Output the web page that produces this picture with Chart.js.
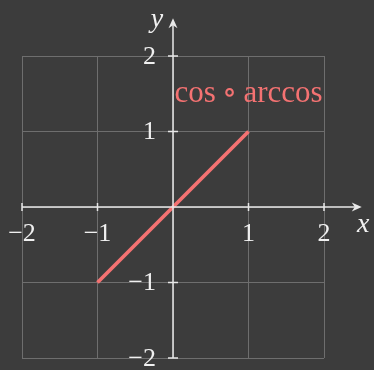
<!DOCTYPE html>
<html>
<head>
<meta charset="utf-8">
<script src="https://cdn.jsdelivr.net/npm/chart.js@4"></script>
<style>
  html, body { margin: 0; padding: 0; background: #3c3c3c; }
  canvas { display: block; }
</style>
</head>
<body>
<canvas id="c" width="374" height="370"></canvas>
<script>
// Data: cos(arccos(x)) = x on its domain [-1, 1]
const xs = [-1, 1];
const ys = [-1, 1];
const xTicks = [-2, -1, 1, 2];
const yTicks = [-2, -1, 1, 2];
const xTickLabels = ['\u22122', '\u22121', '1', '2'];
const yTickLabels = ['\u22122', '\u22121', '1', '2'];
const curveLabel = 'cos\u2009\u2218\u2009arccos';
const curveLabelAt = [0.02, 1.5];

const BG = '#3c3c3c';
const GRID = '#6e6e6e';
const AXIS = '#e8e8e8';
const RED = '#f47272';
const SERIF = '"Liberation Serif", "DejaVu Serif", serif';

// Axes through the origin, with arrowheads, crossing tick marks and labels
const originAxes = {
  id: 'originAxes',
  afterDatasetsDraw(chart) {
    const ctx = chart.ctx;
    const sx = chart.scales.x, sy = chart.scales.y;
    const x0 = sx.getPixelForValue(0), y0 = sy.getPixelForValue(0);
    const left = sx.getPixelForValue(-2), right = sx.getPixelForValue(2.5);
    const bottom = sy.getPixelForValue(-2), top = sy.getPixelForValue(2.5);
    ctx.save();
    ctx.strokeStyle = AXIS;
    ctx.fillStyle = AXIS;
    ctx.lineWidth = 1.5;
    // axis lines
    ctx.beginPath();
    ctx.moveTo(left, y0); ctx.lineTo(right - 3, y0);
    ctx.moveTo(x0, bottom); ctx.lineTo(x0, top + 3);
    ctx.stroke();
    // arrowheads
    ctx.beginPath();
    ctx.moveTo(right, y0);
    ctx.lineTo(right - 10, y0 - 4.5);
    ctx.lineTo(right - 7, y0);
    ctx.lineTo(right - 10, y0 + 4.5);
    ctx.closePath();
    ctx.fill();
    ctx.beginPath();
    ctx.moveTo(x0, top);
    ctx.lineTo(x0 - 4.5, top + 10);
    ctx.lineTo(x0, top + 7);
    ctx.lineTo(x0 + 4.5, top + 10);
    ctx.closePath();
    ctx.fill();
    // tick marks
    ctx.beginPath();
    xTicks.forEach(v => {
      const px = sx.getPixelForValue(v);
      ctx.moveTo(px, y0 - 4); ctx.lineTo(px, y0 + 4);
    });
    yTicks.forEach(v => {
      const py = sy.getPixelForValue(v);
      ctx.moveTo(x0 - 5, py); ctx.lineTo(x0 + 5, py);
    });
    ctx.stroke();
    // tick labels
    ctx.fillStyle = '#f0f0f0';
    ctx.font = '26px ' + SERIF;
    ctx.textAlign = 'center';
    ctx.textBaseline = 'alphabetic';
    xTicks.forEach((v, i) => {
      ctx.fillText(xTickLabels[i], sx.getPixelForValue(v), y0 + 34);
    });
    ctx.textAlign = 'right';
    ctx.textBaseline = 'middle';
    yTicks.forEach((v, i) => {
      ctx.fillText(yTickLabels[i], x0 - 17, sy.getPixelForValue(v) + 1);
    });
    // axis names
    ctx.font = 'italic 28px ' + SERIF;
    ctx.textAlign = 'center';
    ctx.textBaseline = 'alphabetic';
    ctx.fillText('x', right + 1.5, y0 + 25);
    ctx.fillText('y', x0 - 16, top + 9);
    // curve label
    ctx.fillStyle = RED;
    ctx.font = '31px ' + SERIF;
    ctx.textAlign = 'left';
    ctx.fillText(curveLabel, sx.getPixelForValue(curveLabelAt[0]), sy.getPixelForValue(curveLabelAt[1]) + 8);
    ctx.restore();
  }
};

const bgPlugin = {
  id: 'bg',
  beforeDraw(chart) {
    const ctx = chart.ctx;
    ctx.save();
    ctx.fillStyle = BG;
    ctx.fillRect(0, 0, chart.width, chart.height);
    ctx.restore();
  }
};

new Chart(document.getElementById('c'), {
  type: 'scatter',
  data: {
    datasets: [{
      data: xs.map((x, i) => ({ x, y: ys[i] })),
      showLine: true,
      borderColor: RED,
      borderWidth: 3.8,
      pointRadius: 0,
      borderCapStyle: 'butt'
    }]
  },
  options: {
    responsive: false,
    animation: false,
    devicePixelRatio: 1,
    layout: { padding: { left: 22, right: 50, top: 56, bottom: 12 } },
    plugins: { legend: { display: false }, tooltip: { enabled: false } },
    scales: {
      x: {
        type: 'linear', min: -2, max: 2,
        ticks: { display: false, stepSize: 1 },
        border: { display: false },
        grid: { color: GRID, lineWidth: 1, drawTicks: false },
        afterFit(s) { s.height = 0; }
      },
      y: {
        type: 'linear', min: -2, max: 2,
        ticks: { display: false, stepSize: 1 },
        border: { display: false },
        grid: { color: GRID, lineWidth: 1, drawTicks: false },
        afterFit(s) { s.width = 0; }
      }
    }
  },
  plugins: [bgPlugin, originAxes]
});
</script>
</body>
</html>
